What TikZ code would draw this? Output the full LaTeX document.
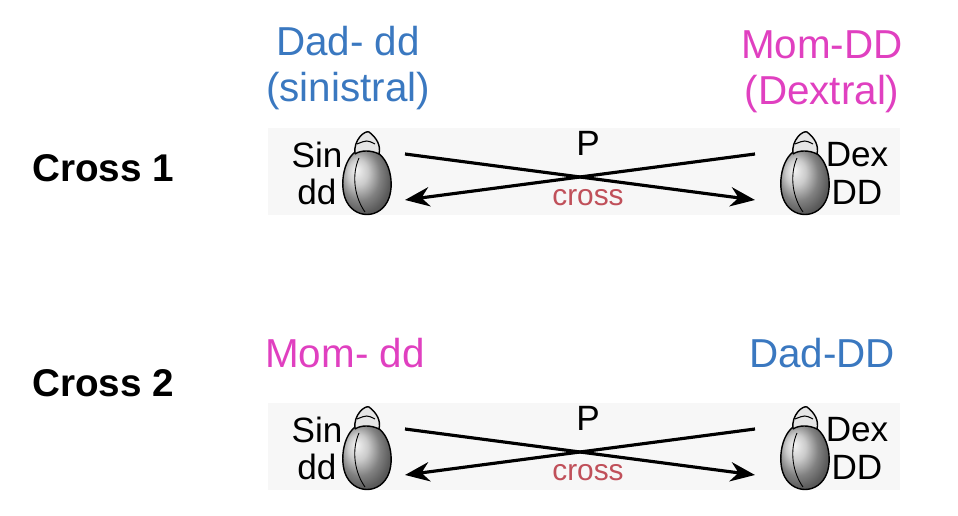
\documentclass[tikz,border=0pt]{standalone}
\usepackage{fontspec}
\setmainfont{Liberation Sans}
\usetikzlibrary{arrows.meta}
\definecolor{dadblue}{HTML}{3A78C0}
\definecolor{mommag}{HTML}{E040C0}
\definecolor{crossred}{HTML}{C0505A}
\newcommand{\snail}[2]{%
  \shade[ball color=gray!55, draw=black, line width=0.8pt]
    (#1-2,#2-28) .. controls (#1+22,#2-26) and (#1+28,#2+5) .. (#1+22,#2+22)
    .. controls (#1+14,#2+44) and (#1-14,#2+44) .. (#1-22,#2+22)
    .. controls (#1-28,#2+5) and (#1-22,#2-26) .. (#1-2,#2-28) -- cycle;
  \draw[fill=gray!20, line width=0.8pt] (#1-12,#2-22) .. controls (#1-14,#2-36) and (#1-2,#2-46) .. (#1+2,#2-44)
    .. controls (#1+10,#2-38) and (#1+14,#2-30) .. (#1+12,#2-22)
    .. controls (#1+4,#2-26) and (#1-6,#2-26) .. (#1-12,#2-22);
  \draw[line width=0.6pt] (#1-10,#2-32) .. controls (#1,#2-36) .. (#1+8,#2-32);
  \draw[line width=0.5pt] (#1-8,#2-18) .. controls (#1-16,#2) and (#1-12,#2+22) .. (#1-2,#2+36);}
\begin{document}
\begin{tikzpicture}[x=0.02cm, y=-0.02cm,
  title/.style={font=\fontsize{23}{26}\selectfont, align=center},
  gene/.style={font=\fontsize{20}{22}\selectfont, align=center},
  crosslabel/.style={font=\bfseries\fontsize{22}{24}\selectfont},
  arrowline/.style={line width=1.8pt, -{Stealth[length=14pt, width=11pt]}}]
  \useasboundingbox (0,0) rectangle (958,516);

  % panels
  \foreach \dy in {0,275}{
    \fill[gray!6] (268,128+\dy) rectangle (900,215+\dy);
    \snail{367}{176+\dy}
    \snail{805}{176+\dy}
    \node[gene] (sin\dy) at (317,155+\dy) {Sin};
    \node[gene] at (317,192+\dy) {dd};
    \node[gene] (dex\dy) at (857,155+\dy) {Dex};
    \node[gene] at (857,192+\dy) {DD};
    \node[gene] (p\dy) at (588,143+\dy) {P};
    \node[font=\fontsize{17}{19}\selectfont, text=crossred] (cr\dy) at (588,198+\dy) {cross};
    \coordinate (lt\dy) at (405,154+\dy);
    \coordinate (lb\dy) at (405,200+\dy);
    \coordinate (rt\dy) at (755,154+\dy);
    \coordinate (rb\dy) at (755,200+\dy);
    \draw[arrowline] (lt\dy) -- (rb\dy);
    \draw[arrowline] (rt\dy) -- (lb\dy);
  }

  % labels
  \node[crosslabel] (c1) at (103,168) {Cross 1};
  \node[crosslabel] (c2) at (103,383) {Cross 2};
  \node[title, text=dadblue] (dad1) at (348,68) {Dad- dd\\(sinistral)};
  \node[title, text=mommag] (mom1) at (822,72) {Mom-DD\\(Dextral)};
  \node[title, text=mommag] (mom2) at (345,353) {Mom- dd};
  \node[title, text=dadblue] (dad2) at (822,353) {Dad-DD};
\end{tikzpicture}
\end{document}
